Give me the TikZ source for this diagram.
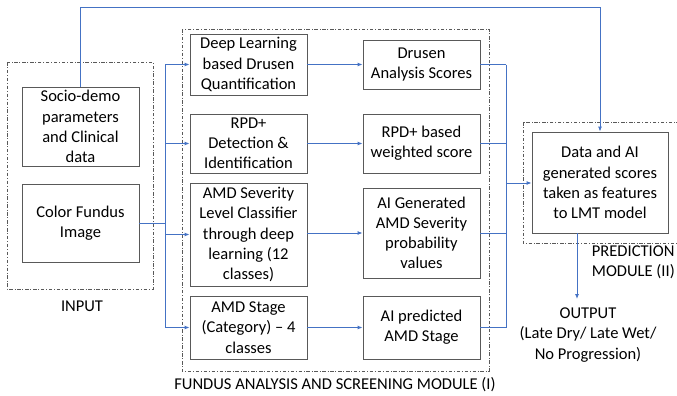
\documentclass[tikz,border=0pt]{standalone}
\usepackage{fontspec}
\setmainfont{Carlito}
\usepackage{xcolor}
\usepackage{tikz}
\usetikzlibrary{arrows.meta, positioning}
\definecolor{colorA}{HTML}{4472C4}
\definecolor{colorB}{HTML}{595959}

\tikzset{
    stagebox/.style={draw=colorB, line width=0.5pt, align=center, inner sep=1pt,
        minimum width=2.34cm, font=\fontsize{9.4}{11.5}\selectfont},
    modulebox/.style={draw=colorB, line width=0.35pt, dash pattern=on 2pt off 1pt on 0.5pt off 1pt},
    flow/.style={draw=colorA, line width=0.5pt},
    flowarrow/.style={flow, -{Latex[length=0.1cm, width=0.08cm]}},
    caption/.style={align=center, font=\fontsize{9.4}{11.5}\selectfont},
}

\begin{document}
\begin{tikzpicture}[x=0.02cm, y=-0.02cm]
        \useasboundingbox (0,0) rectangle (677,396);
        % modules
        \draw[modulebox] (7,62) rectangle (153,289);
        \draw[modulebox] (182,29) rectangle (489,371);
        \draw[modulebox] (523,122) rectangle (690,243);
        \node[caption] (inlabel) at (82,306) {INPUT};
        \node[caption] (fundlabel) at (335,385) {FUNDUS ANALYSIS AND SCREENING MODULE (I)};
        \node[caption, align=left, anchor=east, inner sep=0.5pt] (predlabel) at (676,262) {PREDICTION\\MODULE (II)};
        % input
        \node[stagebox, minimum height=1.58cm] (socio) at (80.5,126.5) {Socio-demo\\parameters\\and Clinical\\data};
        \node[stagebox, minimum height=1.56cm] (fundus) at (80.5,223) {Color Fundus\\Image};
        % analysis
        \node[stagebox, minimum height=1.22cm] (deep) at (248.5,64.5) {Deep Learning\\based Drusen\\Quantification};
        \node[stagebox, minimum height=1.18cm] (rpd) at (248.5,143.5) {RPD+\\Detection \&\\Identification};
        \node[stagebox, minimum height=2.06cm] (sev) at (248.5,234.5) {AMD Severity\\Level Classifier\\through deep\\learning (12\\classes)};
        \node[stagebox, minimum height=1.26cm] (stage) at (248.5,327.5) {AMD Stage\\(Category) -- 4\\classes};
        \node[stagebox, minimum height=0.98cm] (drusen) at (421.5,64.5) {Drusen\\Analysis Scores};
        \node[stagebox, minimum height=1.18cm] (rpdw) at (421.5,143.5) {RPD+ based\\weighted score};
        \node[stagebox, minimum height=1.8cm] (aigen) at (421.5,233) {AI Generated\\AMD Severity\\probability\\values};
        \node[stagebox, minimum height=1.26cm] (aipred) at (421.5,327.5) {AI predicted\\AMD Stage};
        % prediction
        \node[stagebox, minimum width=2.72cm, minimum height=2.02cm] (data) at (600,182.5) {Data and AI\\generated scores\\taken as features\\to LMT model};
        \node[caption] (output) at (588,335) {OUTPUT\\(Late Dry/ Late Wet/\\No Progression)};
        % connectors
        \coordinate (split) at (165,223);
        \coordinate (merge) at (506,183);
        \draw[flow] (fundus.east |- split) -- (split);
        \draw[flow] (split |- deep) -- (split |- stage);
        \foreach \a/\b in {deep/drusen, rpd/rpdw, sev/aigen, stage/aipred} {
            \draw[flowarrow] (split |- \a) -- (\a.west);
            \draw[flowarrow] (\a.east |- \b) -- (\b.west);
            \draw[flow] (\b.east) -- (merge |- \b);
        }
        \draw[flow] (merge |- drusen) -- (merge |- aipred);
        \draw[flowarrow] (merge) -- (data.west |- merge);
        \draw[flowarrow] (socio.north) -- (80.5,7) -| (data.north);
        \draw[flowarrow] (577,233) -- (577,299);
    \end{tikzpicture}
\end{document}
